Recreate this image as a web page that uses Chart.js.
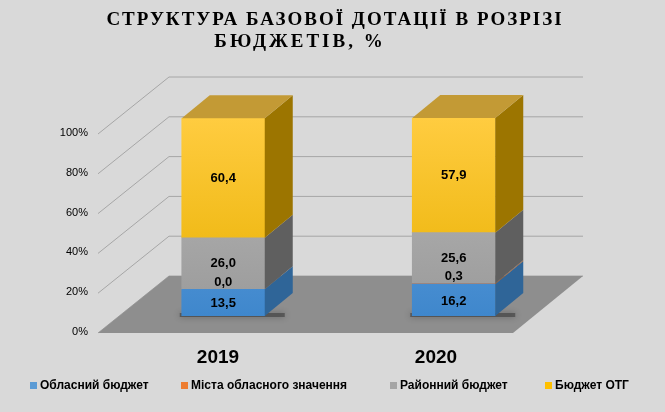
<!DOCTYPE html>
<html>
<head>
<meta charset="utf-8">
<script src="https://cdn.jsdelivr.net/npm/chart.js@4.4.0/dist/chart.umd.min.js"></script>
<style>
  body { margin: 0; background: #d9d9d9; }
  #wrap { width: 665px; height: 412px; }
</style>
</head>
<body>
<div id="wrap"><canvas id="bar-chart"></canvas></div>
<script>
// data
var years = ['2019', '2020'];
var oblast = [13.5, 16.2];
var cities = [0.0, 0.3];
var raion = [26.0, 25.6];
var otg = [60.4, 57.9];
var seriesNames = ['Обласний бюджет', 'Міста обласного значення', 'Районний бюджет', 'Бюджет ОТГ'];
var yTicks = [0, 20, 40, 60, 80, 100];

var front = ['#5b9bd5', '#ed7d31', '#a5a5a5', '#ffc000'];
var side = ['#2f6598', '#a04f18', '#5f5f5f', '#9c7500'];
var DX = 28, DY = -23;

function vGrad(c1, c2) {
    return function(context) {
        var ca = context.chart.chartArea;
        if (!ca) return c1;
        var g = context.chart.ctx.createLinearGradient(0, ca.top, 0, ca.bottom);
        g.addColorStop(0, c1);
        g.addColorStop(1, c2);
        return g;
    };
}

var scene3d = {
    id: 'scene3d',
    beforeDatasetsDraw: function(chart) {
        var c = chart.ctx;
        var ys = chart.scales.y;
        c.save();
        // back wall gridlines + left wall slants
        c.strokeStyle = '#a6a6a6';
        c.lineWidth = 1;
        yTicks.forEach(function(v) {
            var yb = 276 - v * 1.99;
            var yf = 333 - v * 1.99;
            c.beginPath();
            c.moveTo(98, yf);
            c.lineTo(169, yb);
            c.lineTo(583, yb);
            c.stroke();
        });
        // floor
        c.fillStyle = '#8e8e8e';
        c.beginPath();
        c.moveTo(98, 333); c.lineTo(513, 333); c.lineTo(583, 276); c.lineTo(169, 276);
        c.closePath();
        c.fill();
        // tick labels
        c.fillStyle = '#000';
        c.font = '11px "Liberation Sans", Arial';
        c.textAlign = 'right';
        c.textBaseline = 'middle';
        yTicks.forEach(function(v) {
            c.fillText(v + '%', 88, 332 - v * 1.99);
        });
        // soft shadows under bars
        c.shadowColor = 'rgba(0,0,0,0.5)';
        c.shadowBlur = 6;
        c.fillStyle = 'rgba(60,60,60,0.6)';
        chart.getDatasetMeta(0).data.forEach(function(b) {
            c.fillRect(b.x - b.width / 2 - 2, ys.getPixelForValue(0) - 3, b.width + DX - 6, 4);
        });
        c.restore();
    },
    afterDatasetsDraw: function(chart) {
        var c = chart.ctx;
        c.save();
        chart.data.datasets.forEach(function(ds, i) {
            chart.getDatasetMeta(i).data.forEach(function(b) {
                var r = b.x + b.width / 2, l = b.x - b.width / 2;
                var top = Math.min(b.y, b.base), bot = Math.max(b.y, b.base);
                c.fillStyle = side[i];
                c.beginPath();
                c.moveTo(r, bot); c.lineTo(r + DX, bot + DY); c.lineTo(r + DX, top + DY); c.lineTo(r, top);
                c.closePath();
                c.fill();
                if (i === chart.data.datasets.length - 1) {
                    c.fillStyle = '#c39a35';
                    c.beginPath();
                    c.moveTo(l, top); c.lineTo(r, top); c.lineTo(r + DX, top + DY); c.lineTo(l + DX, top + DY);
                    c.closePath();
                    c.fill();
                }
            });
        });
        // value labels
        c.fillStyle = '#000';
        c.font = 'bold 13px "Liberation Sans", Arial';
        c.textAlign = 'center';
        c.textBaseline = 'middle';
        chart.data.datasets.forEach(function(ds, i) {
            chart.getDatasetMeta(i).data.forEach(function(b, j) {
                var y = (b.y + b.base) / 2;
                if (i === 0) y += 1;
                if (i === 1) y = b.y - 7;
                c.fillText(ds.data[j].toFixed(1).replace('.', ','), b.x, y);
            });
        });
        // category labels
        c.font = 'bold 19px "Liberation Sans", Arial';
        c.fillText(years[0], 218, 358);
        c.fillText(years[1], 436, 358);
        // title
        c.font = 'bold 19px "Liberation Serif", "Times New Roman"';
        c.letterSpacing = '2px';
        c.fillText('СТРУКТУРА БАЗОВОЇ ДОТАЦІЇ В РОЗРІЗІ', 335, 20);
        c.letterSpacing = '3px';
        c.fillText('БЮДЖЕТІВ, %', 300, 42);
        c.letterSpacing = '0px';
        // legend
        c.font = 'bold 12px "Liberation Sans", Arial';
        c.textAlign = 'left';
        var lx = [30, 181, 390, 545];
        seriesNames.forEach(function(n, i) {
            c.fillStyle = front[i];
            c.fillRect(lx[i], 382, 7, 7);
            c.fillStyle = '#000';
            c.fillText(n, lx[i] + 10, 386);
        });
        c.restore();
    }
};

var ctx = document.getElementById('bar-chart').getContext('2d');
var chart = new Chart(ctx, {
    type: 'bar',
    data: {
        labels: years,
        datasets: [
            { label: seriesNames[0], data: oblast, backgroundColor: vGrad('#6aa8e6', '#3f87cc') },
            { label: seriesNames[1], data: cities, backgroundColor: front[1] },
            { label: seriesNames[2], data: raion, backgroundColor: vGrad('#b8b8b8', '#9a9a9a') },
            { label: seriesNames[3], data: otg, backgroundColor: vGrad('#ffcc40', '#e8b000') }
        ]
    },
    options: {
        responsive: true,
        maintainAspectRatio: false,
        animation: false,
        layout: { padding: { left: 108, right: 96, top: 118, bottom: 96 } },
        datasets: { bar: { barThickness: 83, borderWidth: 0 } },
        plugins: { legend: { display: false }, tooltip: { enabled: false } },
        scales: {
            x: { stacked: true, display: false },
            y: { stacked: true, display: false, min: 0, max: 100 }
        }
    },
    plugins: [scene3d]
});
</script>
</body>
</html>
